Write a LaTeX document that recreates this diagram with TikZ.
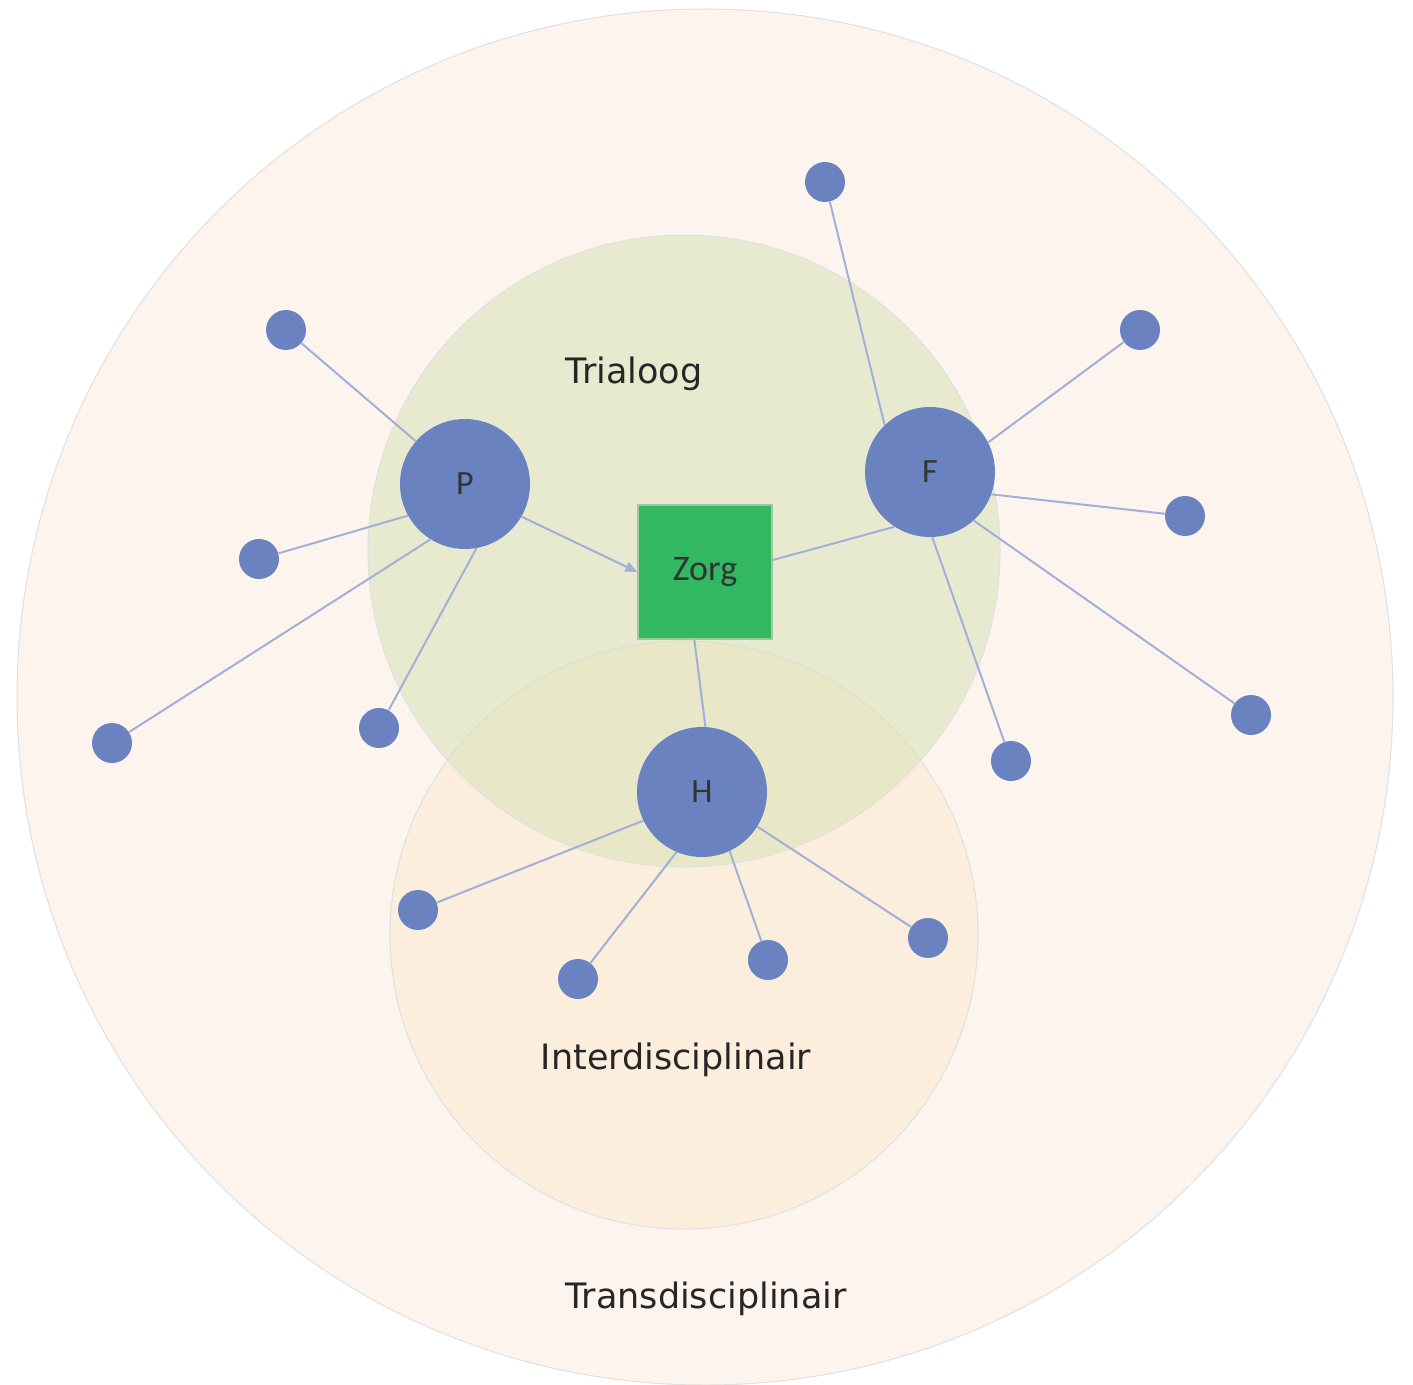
\documentclass[tikz,border=0pt]{standalone}
\usepackage{fontspec}
\setmainfont{Carlito}
\newfontfamily\labelfont{DejaVu Sans}
\usetikzlibrary{arrows.meta}

\definecolor{outerbg}{RGB}{253,244,238}
\definecolor{interbg}{RGB}{252,238,220}
\definecolor{trialbg}{RGB}{213,226,180}
\definecolor{nodeblue}{RGB}{106,131,192}
\definecolor{linkblue}{RGB}{160,176,215}
\definecolor{zorggreen}{RGB}{51,184,98}
\definecolor{zorgedge}{RGB}{160,200,165}

\begin{document}
\begin{tikzpicture}[x=0.5pt, y=-0.5pt,
    zone/.style = {draw=black!12, line width=0.5pt},
    main/.style = {circle, fill=nodeblue, minimum size=65pt, inner sep=0pt, text=black!80, font=\fontsize{17}{20}\selectfont},
    small/.style = {circle, fill=nodeblue, minimum size=20pt, inner sep=0pt},
    care/.style = {rectangle, fill=zorggreen, draw=zorgedge, line width=0.6pt, minimum width=67pt, minimum height=67pt, inner sep=0pt, text=black!80, font=\fontsize{18}{20}\selectfont},
    link/.style = {draw=linkblue, line width=1pt},
    tag/.style = {text=black!85, font=\labelfont\fontsize{17.5}{20}\selectfont}]
    \useasboundingbox (0,0) rectangle (1413,1385);
    \fill[white] (0,0) rectangle (1413,1385);
    % zones
    \draw[zone, fill=outerbg] (705,697) circle [radius=344pt];
    \draw[zone, fill=interbg] (684,935) circle [radius=147pt];
    \draw[zone, fill=trialbg, fill opacity=0.5] (684,551) circle [radius=158pt];
    \node[tag] (trialoog) at (634,374) {Trialoog};
    \node[tag] (inter) at (676,1060) {Interdisciplinair};
    \node[tag] (trans) at (706,1299) {Transdisciplinair};
    % main nodes
    \node[care] (Zorg) at (705,572) {Zorg};
    \node[main] (P) at (465,484) {P};
    \node[main] (F) at (930,472) {F};
    \node[main] (H) at (702,792) {H};
    % satellites
    \node[small] (p1) at (286,330) {};
    \node[small] (p2) at (259,559) {};
    \node[small] (p3) at (112,743) {};
    \node[small] (p4) at (379,728) {};
    \node[small] (f1) at (825,182) {};
    \node[small] (f2) at (1140,330) {};
    \node[small] (f3) at (1185,516) {};
    \node[small] (f4) at (1251,715) {};
    \node[small] (f5) at (1011,761) {};
    \node[small] (h1) at (418,910) {};
    \node[small] (h2) at (578,979) {};
    \node[small] (h3) at (768,960) {};
    \node[small] (h4) at (928,938) {};
    % links
    \draw[link, -{Triangle[length=6pt, width=5pt]}] (P.-30) -- (Zorg.west);
    \draw[link] (F.237) -- (Zorg.10);
    \draw[link] (Zorg.-99) -- (H.87);
    \foreach \a/\s in {139/p1,209/p2,238/p3,280/p4} \draw[link] (P.\a) -- (\s);
    \foreach \a/\s in {134/f1,27/f2,-20/f3,-48/f4,-88/f5} \draw[link] (F.\a) -- (\s);
    \foreach \a/\s in {206/h1,247/h2,-65/h3,-32/h4} \draw[link] (H.\a) -- (\s);
\end{tikzpicture}
\end{document}
